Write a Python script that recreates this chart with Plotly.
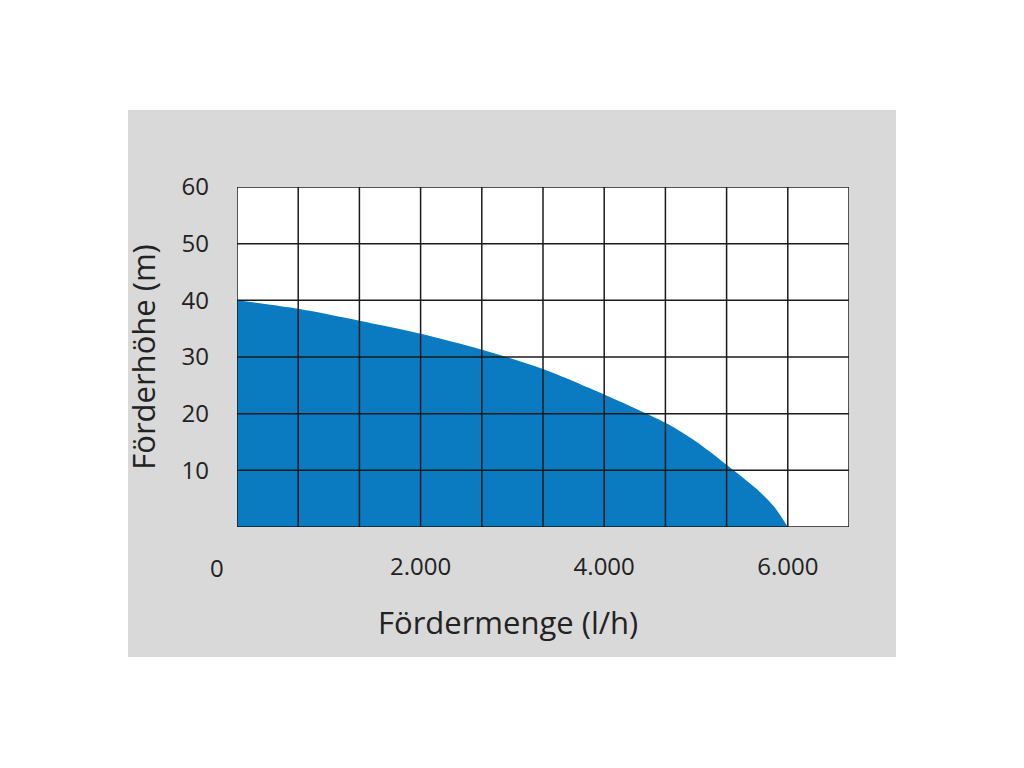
import plotly.graph_objects as go

# Data
flow_lh = [0, 667, 1333, 2000, 2667, 3333, 4000, 4667, 5000, 5333, 5667, 5850, 6000]
head_m = [40.0, 38.5, 36.4, 34.1, 31.3, 27.9, 23.4, 18.4, 15.1, 11.0, 6.6, 3.6, 0.0]

x_tick_vals = [2000, 4000, 6000]
x_tick_text = ["2.000", "4.000", "6.000"]
y_tick_vals = [10, 20, 30, 40, 50, 60]
y_tick_text = ["10", "20", "30", "40", "50", "60"]

x_max = 20000 / 3  # 10 grid columns of 666.67 l/h
y_max = 60
x_grid = [i * x_max / 10 for i in range(11)]
y_grid = [i * 10 for i in range(7)]

FONT = "Open Sans"
TXT = "#222222"
TICK = 24
TITLE = 31

fig = go.Figure()
fig.add_trace(go.Scatter(
    x=flow_lh, y=head_m, mode="lines", line=dict(width=0, color="#0b7bc1", shape="spline", smoothing=0.8),
    fill="tozeroy", fillcolor="#0b7bc1", hoverinfo="skip", showlegend=False,
))

shapes = [
    dict(type="rect", xref="paper", yref="paper", x0=-0.1781, x1=1.0768, y0=-0.3824, y1=1.2265,
         fillcolor="#d9d9d9", line=dict(width=0), layer="below"),
    dict(type="rect", xref="paper", yref="paper", x0=0, x1=1, y0=0, y1=1,
         fillcolor="white", line=dict(width=0), layer="below"),
]
for gx in x_grid:
    shapes.append(dict(type="line", xref="x", yref="y", x0=gx, x1=gx, y0=0, y1=y_max,
                       line=dict(color="#1a1a1a", width=1.5), layer="above"))
for gy in y_grid:
    shapes.append(dict(type="line", xref="x", yref="y", x0=0, x1=x_max, y0=gy, y1=gy,
                       line=dict(color="#1a1a1a", width=1.5), layer="above"))

fig.update_layout(
    width=1008, height=752,
    margin=dict(l=229, r=167, t=179, b=233, autoexpand=False),
    paper_bgcolor="white", plot_bgcolor="rgba(0,0,0,0)",
    font=dict(family=FONT, color=TXT, size=TICK),
    shapes=shapes,
    showlegend=False,
    xaxis=dict(range=[0, x_max], showgrid=False, zeroline=False, showline=False,
               tickvals=x_tick_vals, ticktext=x_tick_text, ticks="",
               ticklabelstandoff=23, tickfont=dict(size=TICK, family=FONT, color=TXT)),
    yaxis=dict(range=[0, y_max], showgrid=False, zeroline=False, showline=False,
               tickvals=y_tick_vals, ticktext=y_tick_text, ticks="",
               ticklabelstandoff=27, tickfont=dict(size=TICK, family=FONT, color=TXT),
               title=dict(text="Förderhöhe (m)", font=dict(size=TITLE, family=FONT, color=TXT), standoff=16)),
    annotations=[
        dict(x=0, y=0, xref="x", yref="y", text="0", showarrow=False,
             xshift=-20, yshift=-40, font=dict(size=TICK, family=FONT, color=TXT)),
        dict(x=0.4428, y=-0.279, xref="paper", yref="paper", text="Fördermenge (l/h)",
             showarrow=False, xanchor="center", yanchor="middle",
             font=dict(size=TITLE, family=FONT, color=TXT)),
    ],
)

fig.write_html("out.html")
